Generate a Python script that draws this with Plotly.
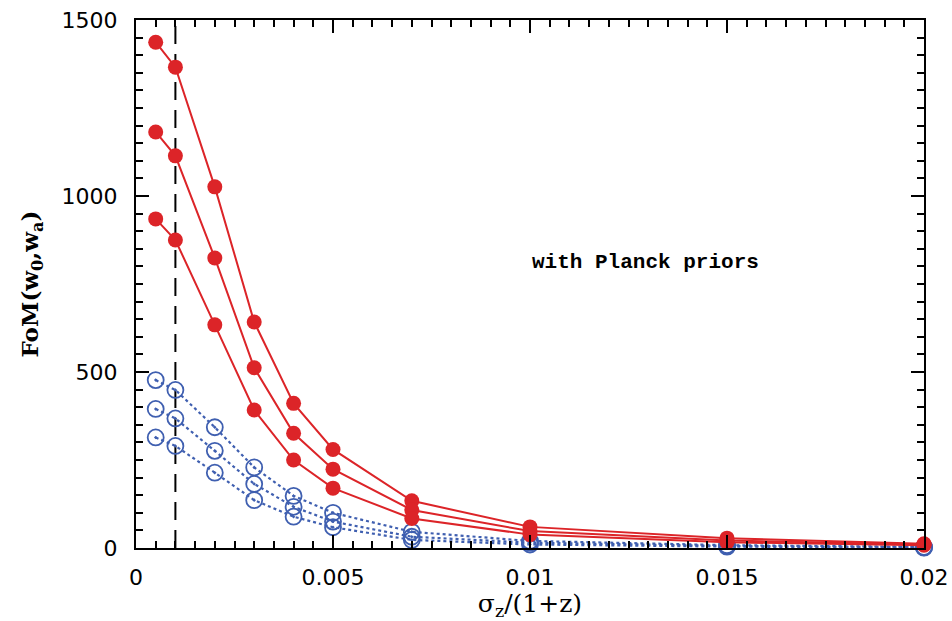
import plotly.graph_objects as go

sigma_z = [0.0005, 0.001, 0.002, 0.003, 0.004, 0.005, 0.007, 0.01, 0.015, 0.02]

red_top = [1437, 1366, 1026, 642, 411, 280, 134, 60, 28, 12]
red_mid = [1182, 1114, 824, 512, 326, 224, 108, 48, 21, 10]
red_bot = [935, 875, 634, 392, 250, 170, 84, 38, 16, 8]

blue_top = [477, 449, 343, 229, 148, 100, 46, 20, 8, 3]
blue_mid = [395, 368, 276, 182, 117, 75, 32, 15, 6, 2]
blue_bot = [314, 290, 214, 136, 89, 59, 23, 10, 4, 1]

x_tickvals = [0, 0.005, 0.01, 0.015, 0.02]
x_ticktext = ["0", "0.005", "0.01", "0.015", "0.02"]
y_tickvals = [0, 500, 1000, 1500]
y_ticktext = ["0", "500", "1000", "1500"]

RED = "#dc2428"
BLUE = "#3f5fb0"

fig = go.Figure()

for ys in (blue_top, blue_mid, blue_bot):
    fig.add_trace(go.Scatter(
        x=sigma_z, y=ys, mode="lines+markers",
        line=dict(color=BLUE, width=2.2, dash="dot"),
        marker=dict(symbol="circle-open-dot", size=16, color=BLUE, line=dict(width=1.8)),
        showlegend=False, cliponaxis=False))

for ys in (red_top, red_mid, red_bot):
    fig.add_trace(go.Scatter(
        x=sigma_z, y=ys, mode="lines+markers",
        line=dict(color=RED, width=2),
        marker=dict(symbol="circle", size=15, color=RED),
        showlegend=False, cliponaxis=False))

fig.add_shape(type="line", x0=0.001, x1=0.001, y0=0, y1=1500, xref="x", yref="y",
              line=dict(color="black", width=2, dash="18px,10px"), layer="below")

fig.add_annotation(x=0.01292, y=812, xref="x", yref="y", text="<b>with Planck priors</b>",
                   showarrow=False, font=dict(family="Liberation Mono", size=21, color="black"))

axis_common = dict(
    showgrid=False, zeroline=False, showline=True, linecolor="black", linewidth=2.2,
    mirror="allticks", ticks="inside", ticklen=13, tickwidth=1.6, tickcolor="black",
    tickfont=dict(family="DejaVu Sans", size=22, color="black"), automargin=False,
    ticklabeloverflow="allow",
)

fig.update_xaxes(**axis_common, range=[0, 0.02], tickvals=x_tickvals, ticktext=x_ticktext,
                 ticklabelstandoff=8,
                 minor=dict(dtick=0.0005, ticks="inside", ticklen=7, tickwidth=1.6, tickcolor="black", tick0=0),
                 title=dict(text="σ<sub>z</sub>/(1+z)", font=dict(family="DejaVu Serif", size=25, color="black"), standoff=4))
fig.update_yaxes(**axis_common, range=[0, 1500], tickvals=y_tickvals, ticktext=y_ticktext,
                 ticklabelstandoff=12,
                 minor=dict(dtick=50, ticks="inside", ticklen=7, tickwidth=1.6, tickcolor="black", tick0=0),
                 title=dict(text="<b>FoM(w<sub>0</sub>,w<sub>a</sub>)</b>", font=dict(family="DejaVu Serif", size=23, color="black"), standoff=16))

fig.update_layout(
    width=952, height=621,
    margin=dict(l=136, r=28, t=20, b=73, autoexpand=False),
    plot_bgcolor="white", paper_bgcolor="white",
)

fig.write_html("out.html", config={"displayModeBar": False},
               post_script="document.body.style.margin='0';document.body.style.overflow='hidden';")
